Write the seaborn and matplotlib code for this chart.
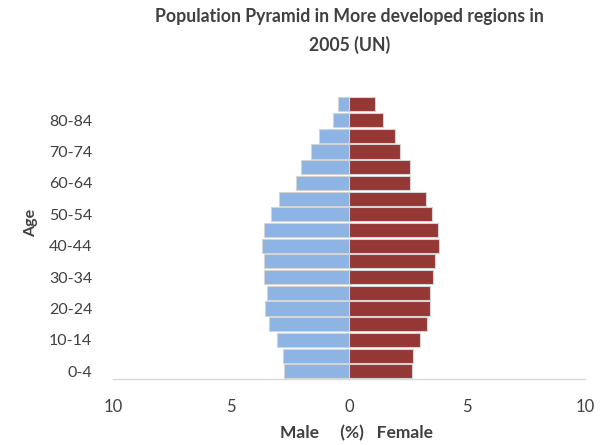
import numpy as np
import pandas as pd
import matplotlib
matplotlib.use("Agg")
import matplotlib.pyplot as plt
import seaborn as sns

# age groups, oldest first (top of the pyramid)
ages = ["85+", "80-84", "75-79", "70-74", "65-69", "60-64", "55-59", "50-54",
        "45-49", "40-44", "35-39", "30-34", "25-29", "20-24", "15-19",
        "10-14", "5-9", "0-4"]
male = [0.45, 0.69, 1.27, 1.60, 2.04, 2.23, 2.95, 3.33, 3.59, 3.70,
        3.59, 3.59, 3.46, 3.55, 3.39, 3.06, 2.81, 2.75]
female = [1.11, 1.42, 1.93, 2.15, 2.59, 2.59, 3.24, 3.50, 3.75, 3.82,
          3.64, 3.57, 3.44, 3.44, 3.31, 3.00, 2.72, 2.66]
shown_ages = ["80-84", "70-74", "60-64", "50-54", "40-44", "30-34",
              "20-24", "10-14", "0-4"]
xticks = [-10, -5, 0, 5, 10]

sns.set_theme(style="white")
plt.rcParams["font.family"] = ["Lato", "DejaVu Sans"]

df = pd.DataFrame({"age": ages, "male": -np.array(male), "female": female})

fig = plt.figure(figsize=(6.05, 4.45), dpi=100)
ax = fig.add_axes([0.187, 0.148, 0.78, 0.635])

sns.barplot(data=df, y="age", x="male", order=ages, orient="h", color="#8DB4E2",
            saturation=1, width=0.9, edgecolor="#d4d4d4", linewidth=0.8, ax=ax)
sns.barplot(data=df, y="age", x="female", order=ages, orient="h", color="#953735",
            saturation=1, width=0.9, edgecolor="#d4d4d4", linewidth=0.8, ax=ax)

ax.set_xlim(-10, 10)
ax.set_ylim(len(ages) - 0.5, -0.5)
ax.set_xticks(xticks)
ax.set_xticklabels([str(abs(t)) for t in xticks], fontsize=12, color="#404040")
ax.set_yticks([ages.index(a) for a in shown_ages])
ax.set_yticklabels(shown_ages, fontsize=11.5, color="#404040")
ax.tick_params(axis="x", length=0, pad=14)
ax.tick_params(axis="y", length=0, pad=15)
ax.set_xlabel("")
ax.set_ylabel("")

for s in ["top", "right", "left"]:
    ax.spines[s].set_visible(False)
ax.spines["bottom"].set_color("#d9d9d9")
ax.spines["bottom"].set_linewidth(1)

fig.text(0.578, 0.962, "Population Pyramid in More developed regions in",
         ha="center", va="center", fontsize=12.7, fontweight="bold", color="#404040")
fig.text(0.578, 0.899, "2005 (UN)", ha="center", va="center",
         fontsize=12.7, fontweight="bold", color="#404040")
fig.text(0.59, 0.027, "Male     (%)   Female", ha="center", va="center",
         fontsize=12.5, fontweight="bold", color="#404040")
fig.text(0.052, 0.5, "Age", ha="center", va="center", rotation=90,
         fontsize=11.5, fontweight="bold", color="#404040")

fig.savefig("out.png", dpi=100, facecolor="white")
